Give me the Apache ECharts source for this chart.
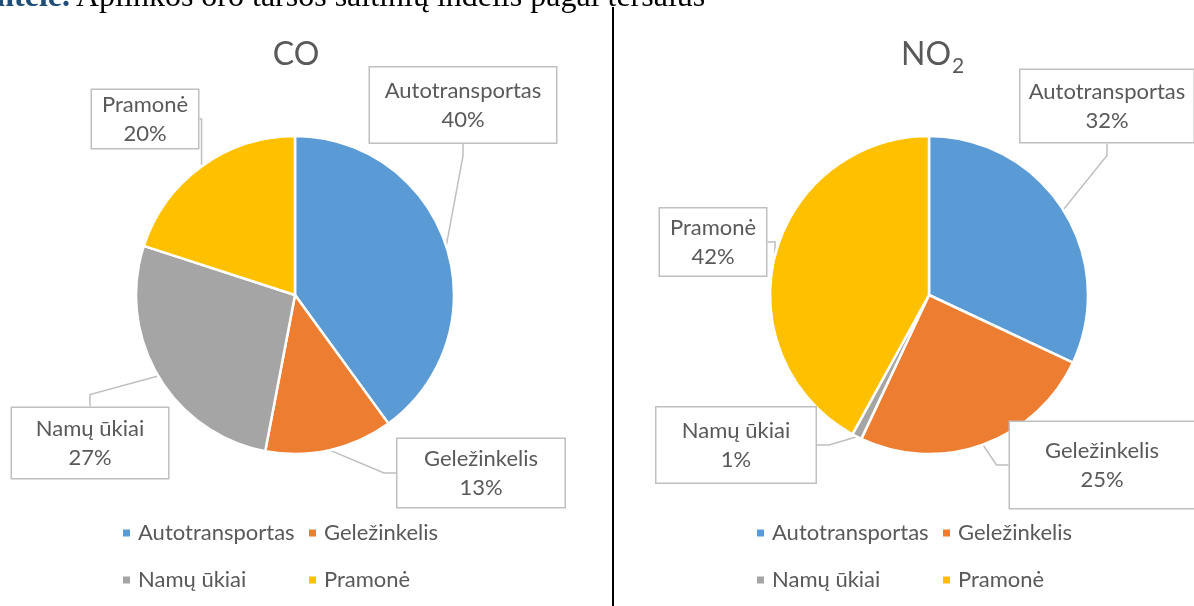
<!DOCTYPE html>
<html>
<head>
<meta charset="utf-8">
<script src="https://cdn.jsdelivr.net/npm/echarts@6/dist/echarts.min.js"></script>
<style>
  html, body { margin: 0; padding: 0; background: #fff; }
  #chart { width: 1194px; height: 606px; }
</style>
</head>
<body>
<div id="chart"></div>
<script>
// Source categories and shares (%) for each pollutant
const categories = ['Autotransportas', 'Geležinkelis', 'Namų ūkiai', 'Pramonė'];
const coValues = [40, 13, 27, 20];
const no2Values = [32, 25, 1, 42];
const palette = ['#5B9BD5', '#ED7D31', '#A5A5A5', '#FFC000'];

// Callout box layout per slice: [centreX, centreY, width, height]
const coBoxes = [[463, 105, 186, 75], [481, 473, 167, 68], [90, 443, 156, 70], [145, 119, 106, 58]];
const no2Boxes = [[1107, 106, 173, 72], [1102, 465, 184, 86], [736, 445, 159, 75], [713, 242, 106, 67]];

const FONT = 'Lato, "Open Sans", sans-serif';
const TEXT = '#595959';
const LINE_H = 29;

function buildData(values, boxes) {
  return categories.map((name, i) => ({
    name: name,
    value: values[i],
    label: {
      width: boxes[i][2],
      padding: [Math.max(0, (boxes[i][3] - 2 * LINE_H) / 2), 0]
    }
  }));
}

function pieSeries(values, boxes, cx) {
  return {
    type: 'pie',
    center: [cx, 295],
    radius: 159,
    startAngle: 90,
    clockwise: true,
    avoidLabelOverlap: false,
    silent: true,
    itemStyle: { borderColor: '#fff', borderWidth: 2.5 },
    label: {
      show: true,
      position: 'outside',
      formatter: '{b}\n{c}%',
      color: TEXT,
      fontFamily: FONT,
      fontSize: 22,
      lineHeight: LINE_H,
      align: 'center',
      backgroundColor: '#fff',
      borderColor: '#BFBFBF',
      borderWidth: 1.5
    },
    labelLine: {
      show: true,
      length: 12,
      length2: 12,
      lineStyle: { color: '#BFBFBF', width: 1.5 }
    },
    labelLayout: function (params) {
      const b = boxes[params.dataIndex];
      return { x: b[0], y: b[1], align: 'center', verticalAlign: 'middle' };
    },
    emphasis: { disabled: true },
    data: buildData(values, boxes)
  };
}

// One legend entry per slot so the two columns line up
function legendItem(name, left, top) {
  return {
    data: [name],
    left: left,
    top: top,
    orient: 'horizontal',
    padding: 0,
    icon: 'rect',
    itemWidth: 9,
    itemHeight: 9,
    selectedMode: false,
    textStyle: { color: TEXT, fontFamily: FONT, fontSize: 22, lineHeight: 24, padding: [0, 0, 0, 2] }
  };
}

const legends = [];
[[121, 307], [755, 941]].forEach(function (cols) {
  legends.push(legendItem(categories[0], cols[0], 521));
  legends.push(legendItem(categories[1], cols[1], 521));
  legends.push(legendItem(categories[2], cols[0], 568));
  legends.push(legendItem(categories[3], cols[1], 568));
});

const chart = echarts.init(document.getElementById('chart'), null, { renderer: 'canvas' });
chart.setOption({
  animation: false,
  color: palette,
  legend: legends,
  graphic: [
    { type: 'text', x: 70, y: 14, style: { text: '18 lentelė.', align: 'right', verticalAlign: 'bottom', fontFamily: '"Liberation Serif", serif', fontWeight: 'bold', fontSize: 32, fill: '#1F4E79' } },
    { type: 'text', x: 76, y: 14, style: { text: 'Aplinkos oro taršos šaltinių indėlis pagal teršalus', align: 'left', verticalAlign: 'bottom', fontFamily: '"Liberation Serif", serif', fontSize: 32, fill: '#000' } },
    { type: 'line', shape: { x1: 613, y1: 7, x2: 613, y2: 606 }, style: { stroke: '#000', lineWidth: 2 } },
    { type: 'text', x: 296, y: 55, style: { text: 'CO', align: 'center', verticalAlign: 'middle', fontFamily: FONT, fontSize: 32, fill: TEXT } },
    { type: 'text', x: 951, y: 55, style: { text: 'NO', align: 'right', verticalAlign: 'middle', fontFamily: FONT, fontSize: 32, fill: TEXT } },
    { type: 'text', x: 952, y: 66, style: { text: '2', align: 'left', verticalAlign: 'middle', fontFamily: FONT, fontSize: 21, fill: TEXT } }
  ],
  series: [
    pieSeries(coValues, coBoxes, 295),
    pieSeries(no2Values, no2Boxes, 929)
  ]
});
</script>
</body>
</html>
